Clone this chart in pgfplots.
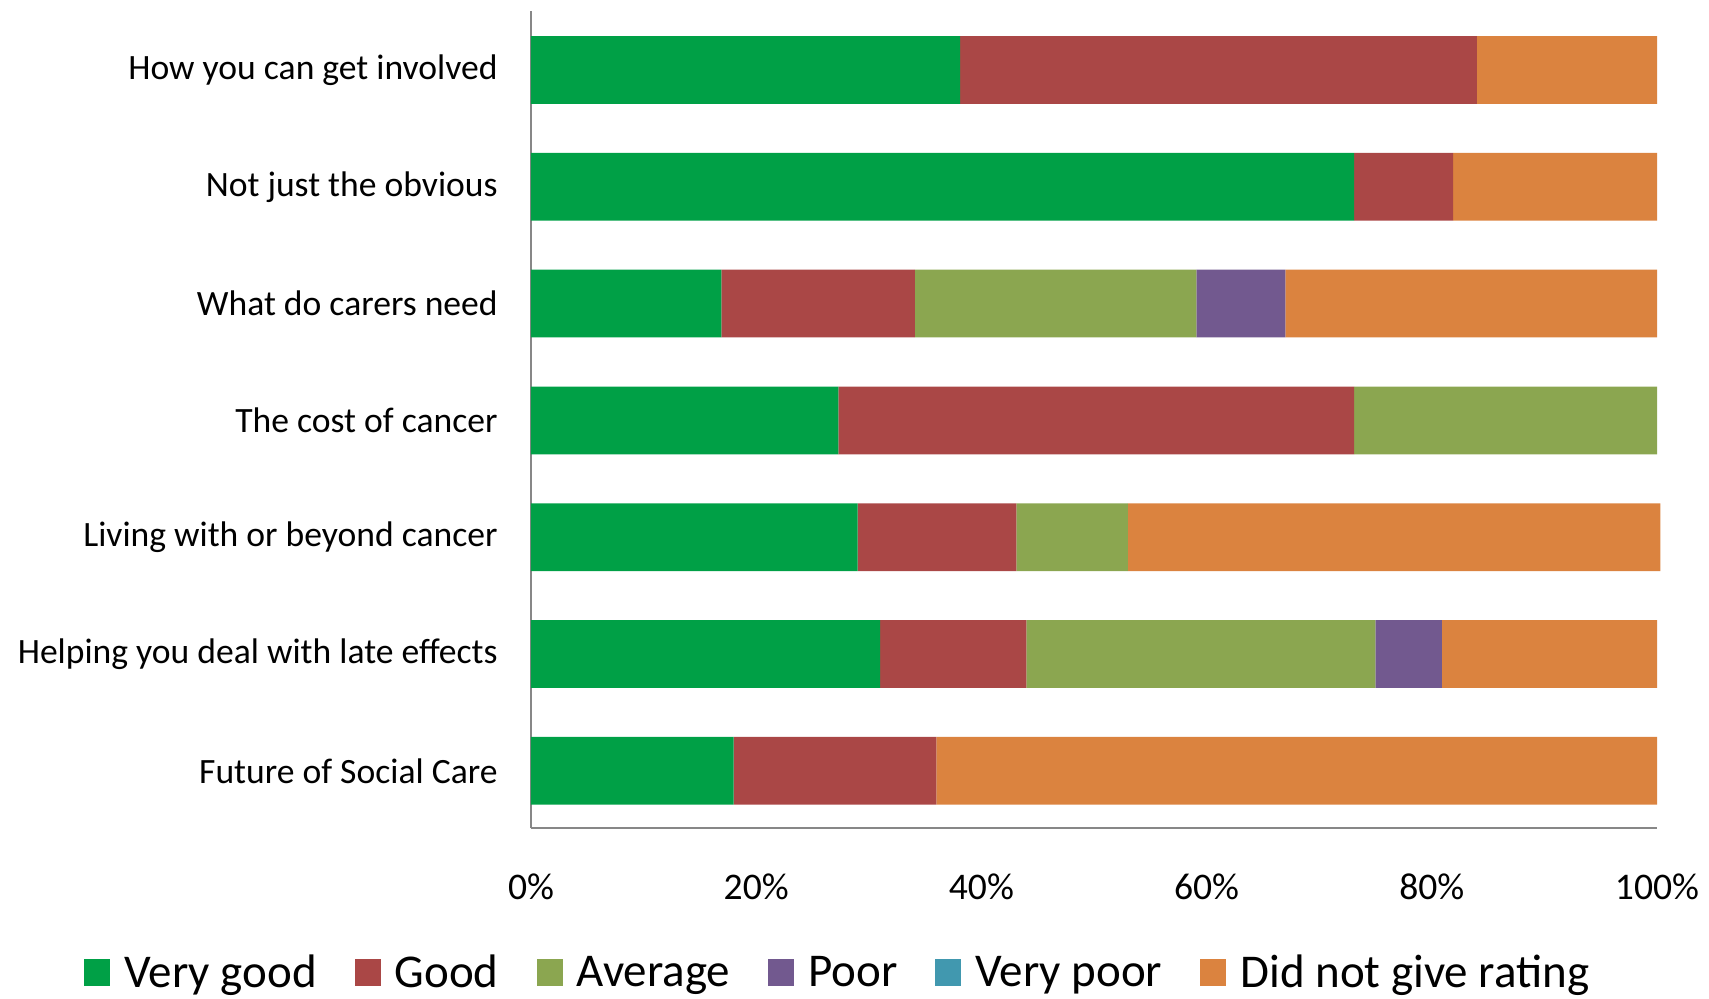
\documentclass[border=0pt]{standalone}
\usepackage{fontspec}
\setmainfont{Carlito}
\usepackage{pgfplots}
\pgfplotsset{compat=1.18}

\definecolor{vgood}{RGB}{0,160,70}
\definecolor{good}{RGB}{170,71,70}
\definecolor{avg}{RGB}{139,166,80}
\definecolor{poor}{RGB}{114,89,143}
\definecolor{vpoor}{RGB}{65,152,175}
\definecolor{norating}{RGB}{219,131,63}

\pgfplotsset{
  sq/.style={legend image code/.code={\fill[##1] (0pt,-6.5pt) rectangle (13pt,7pt); \path (18pt,0pt);}},
}

\begin{document}
\begin{tikzpicture}
% whole picture, axis origin at (0,0)
\useasboundingbox (-265.5pt,-85pt) rectangle (589pt,414pt);
\begin{axis}[
    at={(0,0)}, anchor=south west,
    scale only axis,
    width=563pt, height=408.5pt,
    xbar stacked,
    bar width=0.58,
    xmin=0, xmax=100,
    ymin=-0.49, ymax=6.505,
    clip=false,
    axis x line*=bottom,
    axis y line*=left,
    axis line style={draw=black!47, line width=1.2pt, -},
    major tick length=0pt,
    xtick={0,20,40,60,80,100},
    xticklabel={\pgfmathprintnumber{\tick}\%},
    /pgf/number format/assume math mode=true,
    xticklabel style={anchor=base, yshift=-35.7pt, font=\fontsize{18.8}{22}\selectfont},
    ytick={0,1,2,3,4,5,6},
    yticklabels={Future of Social Care, Helping you deal with late effects, Living with or beyond cancer, The cost of cancer, What do carers need, Not just the obvious, How you can get involved},
    yticklabel style={anchor=east, inner sep=0pt, xshift=-16.5pt, font=\fontsize{17.8}{21}\selectfont},
    legend columns=-1,
    legend style={draw=none, fill=none, at={(0.2735,-0.1775)}, anchor=center,
        font=\fontsize{23.5}{28}\selectfont,
        /tikz/every even column/.append style={column sep=17pt}},
]
\addplot[fill=vgood, draw=none, sq] coordinates {(18,0) (31,1) (29,2) (27.3,3) (16.9,4) (73.1,5) (38.1,6)};
\addplot[fill=good, draw=none, sq] coordinates {(18,0) (13,1) (14.1,2) (45.8,3) (17.2,4) (8.8,5) (45.9,6)};
\addplot[fill=avg, draw=none, sq] coordinates {(0,0) (31,1) (9.9,2) (26.9,3) (25,4) (0,5) (0,6)};
\addplot[fill=poor, draw=none, sq] coordinates {(0,0) (5.9,1) (0,2) (0,3) (7.9,4) (0,5) (0,6)};
\addplot[fill=vpoor, draw=none, sq] coordinates {(0,0) (0,1) (0,2) (0,3) (0,4) (0,5) (0,6)};
\addplot[fill=norating, draw=none, sq] coordinates {(64,0) (19.1,1) (47.3,2) (0,3) (33,4) (18.1,5) (16,6)};
\legend{Very good, Good, Average, Poor, Very poor, Did not give rating}
\end{axis}
\end{tikzpicture}
\end{document}
